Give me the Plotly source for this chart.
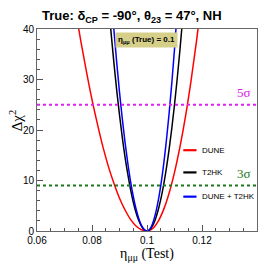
import plotly.graph_objects as go

# Data
dune_x = [0.074, 0.076, 0.078, 0.080, 0.082, 0.084, 0.086, 0.088, 0.090, 0.092, 0.094, 0.096, 0.098, 0.100,
          0.102, 0.104, 0.106, 0.108, 0.110, 0.112, 0.114, 0.116, 0.118, 0.120]
dune_y = [43.9, 37.4, 31.5, 26.0, 21.1, 16.6, 12.7, 9.4, 6.5, 4.2, 2.3, 1.0, 0.26, 0.0,
          0.46, 1.86, 4.18, 7.42, 11.6, 16.7, 22.7, 29.7, 37.6, 46.4]

t2hk_x = [0.086, 0.087, 0.088, 0.089, 0.090, 0.091, 0.092, 0.093, 0.094, 0.095, 0.096, 0.097, 0.098, 0.099, 0.100,
          0.101, 0.102, 0.103, 0.104, 0.105, 0.106, 0.107, 0.108, 0.109, 0.110, 0.111, 0.112, 0.113]
t2hk_y = [45.1, 38.9, 33.1, 27.8, 23.0, 18.6, 14.7, 11.3, 8.3, 5.75, 3.68, 2.07, 0.92, 0.23, 0.0,
          0.25, 1.0, 2.25, 4.0, 6.25, 9.0, 12.25, 16.0, 20.25, 25.0, 30.25, 36.0, 42.25]

comb_x = [0.087, 0.088, 0.089, 0.090, 0.091, 0.092, 0.093, 0.094, 0.095, 0.096, 0.097, 0.098, 0.099, 0.100,
          0.101, 0.102, 0.103, 0.104, 0.105, 0.106, 0.107, 0.108, 0.109, 0.110, 0.111]
comb_y = [46.5, 39.6, 33.3, 27.5, 22.3, 17.6, 13.5, 9.9, 6.9, 4.4, 2.5, 1.1, 0.28, 0.0,
          0.36, 1.44, 3.24, 5.76, 9.0, 12.96, 17.64, 23.04, 29.16, 36.0, 43.56]

series_names = ["DUNE", "T2HK", "DUNE + T2HK"]
series_colors = ["#ff0000", "#000000", "#0000ff"]
sigma_levels = [25, 9]
sigma_labels = ["5σ", "3σ"]
sigma_colors = ["#e020f0", "#1a7a1a"]

x_range = [0.06, 0.14]
y_range = [0, 40]
x_ticks = [0.06, 0.08, 0.1, 0.12, 0.14]
x_ticklabels = ["0.06", "0.08", "0.1", "0.12", "0.14"]
y_ticks = [0, 10, 20, 30, 40]

font_main = "Liberation Sans Narrow, Liberation Sans, Arial, sans-serif"
font_serif = "Liberation Serif, DejaVu Serif, serif"

fig = go.Figure()
for xs, ys, name, col in zip([dune_x, t2hk_x, comb_x], [dune_y, t2hk_y, comb_y], series_names, series_colors):
    fig.add_trace(go.Scatter(x=xs, y=ys, mode="lines", name=name,
                             line=dict(color=col, width=1.5, shape="spline", smoothing=1.0),
                             showlegend=False))

# sigma lines
for lvl, lab, col in zip(sigma_levels, sigma_labels, sigma_colors):
    fig.add_trace(go.Scatter(x=x_range, y=[lvl, lvl], mode="lines",
                             line=dict(color=col, width=2, dash="dot"), showlegend=False))
    fig.add_annotation(x=0.1385, y=lvl, xref="x", yref="y", text=lab, showarrow=False,
                       xanchor="right", yanchor="bottom", yshift=3,
                       font=dict(family=font_serif, size=13, color=col))

# manual legend
leg_y = [0.40, 0.29, 0.17]
for yy, name, col in zip(leg_y, series_names, series_colors):
    fig.add_shape(type="line", xref="paper", yref="paper", x0=0.665, x1=0.725, y0=yy, y1=yy,
                  line=dict(color=col, width=2.2))
    fig.add_annotation(xref="paper", yref="paper", x=0.74, y=yy, text=name, showarrow=False,
                       xanchor="left", yanchor="middle",
                       font=dict(family=font_main, size=8, color="#000"))

# eta box
fig.add_annotation(xref="paper", yref="paper", x=0.497, y=0.946,
                   text="<b>η<sub>μμ</sub> (True) = 0.1</b>", showarrow=False,
                   xanchor="center", yanchor="middle", bgcolor="#d6cf8a",
                   borderpad=2, font=dict(family=font_main, size=8, color="#000"))

# title
fig.add_annotation(xref="paper", yref="paper", x=0.43, y=1.06,
                   text="<b>True: δ<sub>CP</sub> = -90°, θ<sub>23</sub> = 47°, NH</b>",
                   showarrow=False, xanchor="center", yanchor="middle",
                   font=dict(family=font_main, size=13, color="#000"))

# y-axis title
fig.add_annotation(xref="paper", yref="paper", x=-0.098, y=0.55, text="Δχ<sup>2</sup>",
                   textangle=-90, showarrow=False, xanchor="center", yanchor="middle",
                   font=dict(family=font_serif, size=15, color="#000"))

fig.update_layout(
    width=258, height=265,
    margin=dict(l=29, r=9, t=21, b=42),
    paper_bgcolor="white", plot_bgcolor="white",
    xaxis=dict(range=x_range, tickvals=x_ticks, ticktext=x_ticklabels, automargin=False,
               ticks="inside", ticklen=6, tickcolor="#555", showgrid=False, zeroline=False,
               showline=True, linecolor="#666", linewidth=1, mirror=True,
               minor=dict(dtick=0.005, ticks="inside", ticklen=3, tickcolor="#555", showgrid=False),
               tickfont=dict(family=font_main, size=10, color="#000"),
               title=dict(text="η<sub>μμ</sub> (Test)", standoff=2,
                          font=dict(family=font_serif, size=14, color="#000"))),
    yaxis=dict(range=y_range, tickvals=y_ticks, automargin=False,
               ticks="inside", ticklen=6, tickcolor="#555", showgrid=False, zeroline=False,
               showline=True, linecolor="#666", linewidth=1, mirror=True,
               minor=dict(dtick=2, ticks="inside", ticklen=3, tickcolor="#555", showgrid=False),
               tickfont=dict(family=font_main, size=10, color="#000")),
)

fig.write_html("out.html")
